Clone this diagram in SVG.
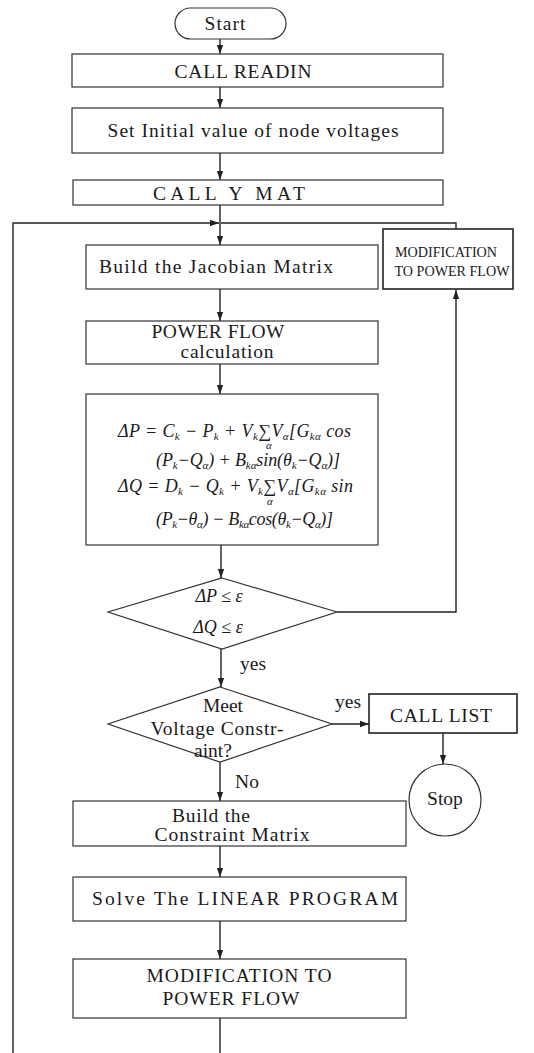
<svg xmlns="http://www.w3.org/2000/svg" width="534" height="1053" viewBox="0 0 534 1053">
<style>
.bg{fill:#fff}
.box{fill:none;stroke:#333;stroke-width:1.2}
.bx2{fill:none;stroke:#222;stroke-width:1.6}
.ln{fill:none;stroke:#222;stroke-width:1.4}
.t{font-family:"Liberation Serif","Times New Roman",serif;font-size:19.5px;fill:#1a1a1a;text-anchor:middle}
.s{font-size:14px}
.m{font-family:"Liberation Serif","Times New Roman",serif;font-size:18px;font-style:italic;fill:#1a1a1a}
.sb{font-size:11px}
</style>
<defs>
<marker id="ah" viewBox="0 0 10 10" refX="10" refY="5" markerWidth="9" markerHeight="9" markerUnits="userSpaceOnUse" orient="auto"><path d="M0,1.5 L10,5 L0,8.5 z" fill="#222"/></marker>
</defs>
<rect class="bg" width="534" height="1053"/>
<g id="connectors">
<path class="ln" d="M220,39 V54" marker-end="url(#ah)"/>
<path class="ln" d="M220,87 V108" marker-end="url(#ah)"/>
<path class="ln" d="M220,153 V180" marker-end="url(#ah)"/>
<path class="ln" d="M220,205 V245" marker-end="url(#ah)"/>
<path class="ln" d="M220,289 V321" marker-end="url(#ah)"/>
<path class="ln" d="M220,364 V394" marker-end="url(#ah)"/>
<path class="ln" d="M221,545 V578" marker-end="url(#ah)"/>
<path class="ln" d="M221,649 V687" marker-end="url(#ah)"/>
<path class="ln" d="M220,762 V801" marker-end="url(#ah)"/>
<path class="ln" d="M220,846 V877" marker-end="url(#ah)"/>
<path class="ln" d="M220,921 V959" marker-end="url(#ah)"/>
<path class="ln" d="M220,1018 V1053"/>
<path class="ln" d="M13,1053 V223 H219" marker-end="url(#ah)"/>
<path class="ln" d="M456,229 V223 H221"/>
<path class="ln" d="M337,612 H456 V290" marker-end="url(#ah)"/>
<path class="ln" d="M332,724 H369" marker-end="url(#ah)"/>
<path class="ln" d="M443,733 V764" marker-end="url(#ah)"/>
</g>
<g id="start">
<rect class="box" x="175" y="8" width="111" height="31" rx="15.5"/>
<text class="t" x="225" y="30" textLength="41" lengthAdjust="spacing">Start</text>
</g>
<g id="readin">
<rect class="box" x="72" y="54" width="371" height="33"/>
<text class="t" x="243" y="78" textLength="137" lengthAdjust="spacing">CALL READIN</text>
</g>
<g id="setinit">
<rect class="box" x="72" y="108" width="371" height="45"/>
<text class="t" x="253" y="137" textLength="291" lengthAdjust="spacing">Set Initial value of node voltages</text>
</g>
<g id="ymat">
<rect class="box" x="73" y="180" width="370" height="25"/>
<text class="t" x="229" y="200" textLength="152" lengthAdjust="spacing">CALL Y MAT</text>
</g>
<g id="jacobian">
<rect class="box" x="86" y="245" width="292" height="44"/>
<text class="t" x="216" y="273" textLength="234" lengthAdjust="spacing">Build the Jacobian Matrix</text>
</g>
<g id="modsmall">
<rect class="bx2" x="383" y="229" width="130" height="60"/>
<text class="t s" x="446" y="257" textLength="102" lengthAdjust="spacingAndGlyphs">MODIFICATION</text>
<text class="t s" x="452" y="276" textLength="115" lengthAdjust="spacingAndGlyphs">TO POWER FLOW</text>
</g>
<g id="powerflow">
<rect class="box" x="86" y="321" width="292" height="43"/>
<text class="t" x="218" y="338" textLength="133" lengthAdjust="spacing">POWER FLOW</text>
<text class="t" x="227" y="358" textLength="93" lengthAdjust="spacing">calculation</text>
</g>
<g id="formula">
<rect class="box" x="86" y="394" width="292" height="151"/>
<text class="m" x="118" y="437" textLength="233" lengthAdjust="spacing">ΔP = C<tspan class="sb" dy="3">k</tspan><tspan dy="-3"> − P</tspan><tspan class="sb" dy="3">k</tspan><tspan dy="-3"> + V</tspan><tspan class="sb" dy="3">k</tspan><tspan dy="-3" font-style="normal">∑</tspan>V<tspan class="sb" dy="3">α</tspan><tspan dy="-3">[G</tspan><tspan class="sb" dy="3">kα</tspan><tspan dy="-3"> cos</tspan></text>
<text class="m sb" x="266" y="449">α</text>
<text class="m" x="156" y="466" textLength="184" lengthAdjust="spacing">(P<tspan class="sb" dy="3">k</tspan><tspan dy="-3">−Q</tspan><tspan class="sb" dy="3">α</tspan><tspan dy="-3">) + B</tspan><tspan class="sb" dy="3">kα</tspan><tspan dy="-3">sin(θ</tspan><tspan class="sb" dy="3">k</tspan><tspan dy="-3">−Q</tspan><tspan class="sb" dy="3">α</tspan><tspan dy="-3">)]</tspan></text>
<text class="m" x="118" y="492" textLength="235" lengthAdjust="spacing">ΔQ = D<tspan class="sb" dy="3">k</tspan><tspan dy="-3"> − Q</tspan><tspan class="sb" dy="3">k</tspan><tspan dy="-3"> + V</tspan><tspan class="sb" dy="3">k</tspan><tspan dy="-3" font-style="normal">∑</tspan>V<tspan class="sb" dy="3">α</tspan><tspan dy="-3">[G</tspan><tspan class="sb" dy="3">kα</tspan><tspan dy="-3"> sin</tspan></text>
<text class="m sb" x="267" y="505">α</text>
<text class="m" x="156" y="525" textLength="177" lengthAdjust="spacing">(P<tspan class="sb" dy="3">k</tspan><tspan dy="-3">−θ</tspan><tspan class="sb" dy="3">α</tspan><tspan dy="-3">) − B</tspan><tspan class="sb" dy="3">kα</tspan><tspan dy="-3">cos(θ</tspan><tspan class="sb" dy="3">k</tspan><tspan dy="-3">−Q</tspan><tspan class="sb" dy="3">α</tspan><tspan dy="-3">)]</tspan></text>
</g>
<g id="dec1">
<polygon class="box" points="222,578 337,612 222,649 108,612"/>
<text class="m" x="219" y="602" text-anchor="middle">ΔP ≤ ε</text>
<text class="m" x="218" y="633" text-anchor="middle">ΔQ ≤ ε</text>
</g>
<text class="t" x="253" y="670">yes</text>
<g id="dec2">
<polygon class="box" points="220,687 332,724 220,762 108,724"/>
<text class="t" x="223" y="712">Meet</text>
<text class="t" x="217" y="735" textLength="133" lengthAdjust="spacing">Voltage Constr-</text>
<text class="t" x="213" y="757">aint?</text>
</g>
<text class="t" x="348" y="708">yes</text>
<g id="calllist">
<rect class="bx2" x="369" y="694" width="148" height="39"/>
<text class="t" x="441" y="722" textLength="102" lengthAdjust="spacing">CALL LIST</text>
</g>
<g id="stop">
<circle class="box" cx="445" cy="800" r="36"/>
<text class="t" x="445" y="805">Stop</text>
</g>
<text class="t" x="247" y="788">No</text>
<g id="constraint">
<rect class="box" x="73" y="801" width="333" height="45"/>
<text class="t" x="211" y="822" textLength="78" lengthAdjust="spacing">Build the</text>
<text class="t" x="232" y="841" textLength="155" lengthAdjust="spacing">Constraint Matrix</text>
</g>
<g id="solve">
<rect class="box" x="73" y="877" width="333" height="44"/>
<text class="t" x="245" y="905" textLength="306" lengthAdjust="spacing">Solve The LINEAR PROGRAM</text>
</g>
<g id="modbig">
<rect class="box" x="73" y="959" width="333" height="59"/>
<text class="t" x="239" y="982" textLength="185" lengthAdjust="spacing">MODIFICATION TO</text>
<text class="t" x="231" y="1005" textLength="137" lengthAdjust="spacing">POWER FLOW</text>
</g>
</svg>
